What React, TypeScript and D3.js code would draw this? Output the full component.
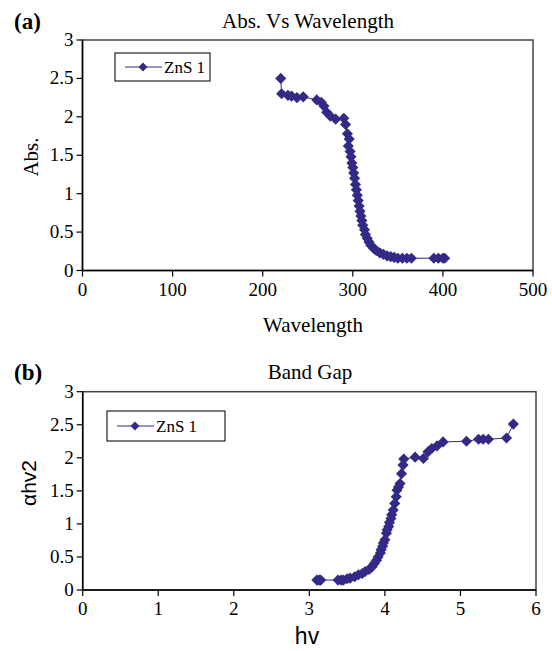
import React from 'react'
import * as d3 from 'd3'

// panel (a): absorbance vs wavelength
const wavelength = [220, 221, 228, 232, 238, 245, 260, 265, 268, 271, 275, 281, 290, 292, 294, 296, 295, 297, 298, 299, 300, 301, 302, 303, 304, 305, 306, 307, 308, 309, 310, 311, 313, 314, 316, 318, 320, 323, 326, 330, 334, 338, 342, 346, 350, 355, 360, 365, 390, 395, 400, 402]
const absValues = [2.5, 2.3, 2.28, 2.27, 2.25, 2.26, 2.22, 2.19, 2.14, 2.06, 2.01, 1.97, 1.98, 1.9, 1.78, 1.71, 1.62, 1.55, 1.48, 1.4, 1.34, 1.27, 1.2, 1.12, 1.05, 0.98, 0.91, 0.84, 0.77, 0.71, 0.65, 0.59, 0.53, 0.47, 0.42, 0.37, 0.33, 0.29, 0.26, 0.23, 0.21, 0.19, 0.18, 0.17, 0.16, 0.16, 0.16, 0.16, 0.16, 0.16, 0.16, 0.16]

// panel (b): band gap
const photonEnergy = [5.7, 5.61, 5.37, 5.3, 5.24, 5.08, 4.77, 4.69, 4.62, 4.57, 4.51, 4.4, 4.25, 4.24, 4.22, 4.2, 4.18, 4.16, 4.15, 4.13, 4.11, 4.09, 4.08, 4.06, 4.05, 4.03, 4.02, 4.0, 3.98, 3.97, 3.95, 3.94, 3.91, 3.89, 3.86, 3.83, 3.79, 3.74, 3.7, 3.65, 3.6, 3.54, 3.5, 3.45, 3.42, 3.38, 3.15, 3.13, 3.1]
const bandValues = [2.51, 2.3, 2.28, 2.28, 2.28, 2.25, 2.24, 2.18, 2.14, 2.09, 1.99, 2.01, 1.98, 1.89, 1.76, 1.61, 1.56, 1.51, 1.41, 1.31, 1.21, 1.14, 1.08, 1.02, 0.96, 0.91, 0.86, 0.76, 0.71, 0.66, 0.61, 0.56, 0.5, 0.45, 0.4, 0.35, 0.31, 0.28, 0.25, 0.23, 0.2, 0.18, 0.17, 0.15, 0.15, 0.15, 0.15, 0.15, 0.15]

const yTicks = [0, 0.5, 1, 1.5, 2, 2.5, 3]
const xTicksA = [0, 100, 200, 300, 400, 500]
const xTicksB = [0, 1, 2, 3, 4, 5, 6]
const seriesName = 'ZnS 1'

const serif = '"Liberation Serif", "Times New Roman", serif'
const sans = '"Liberation Sans", Arial, sans-serif'
const navy = '#332a86'
const marker = d3.symbol(d3.symbolSquare, 62)()

type PanelProps = {
  xs: number[]
  ys: number[]
  xTicks: number[]
  left: number
  right: number
  top: number
  bottom: number
  legend: { x: number; y: number; w: number; h: number }
}

const Panel = ({ xs, ys, xTicks, left, right, top, bottom, legend }: PanelProps) => {
  const x = d3.scaleLinear().domain([xTicks[0], xTicks[xTicks.length - 1]]).range([left, right])
  const y = d3.scaleLinear().domain([0, 3]).range([bottom, top])
  const pts: [number, number][] = xs.map((v, i) => [x(v), y(ys[i])])
  const line = d3.line()(pts) || ''
  const ly = legend.y + legend.h / 2
  return (
    <g>
      <rect x={left} y={top} width={right - left} height={bottom - top} fill="none" stroke="#444" strokeWidth={1.5} />
      <line x1={left} x2={left} y1={top} y2={bottom} stroke="#000" strokeWidth={1.5} />
      <line x1={left} x2={right} y1={bottom} y2={bottom} stroke="#000" strokeWidth={1.5} />
      {yTicks.map((t) => (
        <g key={'y' + t}>
          <line x1={left - 6} x2={left} y1={y(t)} y2={y(t)} stroke="#000" strokeWidth={1.2} />
          <text x={left - 9} y={y(t) + 6} textAnchor="end" fontFamily={serif} fontSize={19}>{t}</text>
        </g>
      ))}
      {xTicks.map((t) => (
        <g key={'x' + t}>
          <line x1={x(t)} x2={x(t)} y1={bottom} y2={bottom + 6} stroke="#000" strokeWidth={1.2} />
          <text x={x(t)} y={bottom + 25} textAnchor="middle" fontFamily={serif} fontSize={19}>{t}</text>
        </g>
      ))}
      <path d={line} fill="none" stroke={navy} strokeWidth={1} />
      {pts.map((p, i) => (
        <path key={i} d={marker} transform={`translate(${p[0]},${p[1]}) rotate(45)`} fill={navy} />
      ))}
      <rect x={legend.x} y={legend.y} width={legend.w} height={legend.h} fill="#fff" stroke="#222" strokeWidth={1.2} />
      <line x1={legend.x + 10} x2={legend.x + 47} y1={ly} y2={ly} stroke={navy} strokeWidth={1.2} />
      <path d={d3.symbol(d3.symbolSquare, 40)()} transform={`translate(${legend.x + 28},${ly}) rotate(45)`} fill={navy} />
      <text x={legend.x + 49} y={ly + 5.5} fontFamily={serif} fontSize={17}>{seriesName}</text>
    </g>
  )
}

export default function App() {
  return (
    <svg width={552} height={651} style={{ position: 'absolute', left: 0, top: 0, background: '#fff' }}>
      <text x={14} y={29} fontFamily={serif} fontSize={23} fontWeight="bold">(a)</text>
      <text x={308} y={28} textAnchor="middle" fontFamily={serif} fontSize={21}>Abs. Vs Wavelength</text>
      <Panel xs={wavelength} ys={absValues} xTicks={xTicksA} left={82.5} right={533} top={40} bottom={270.5}
        legend={{ x: 115, y: 53, w: 95, h: 28 }} />
      <text x={313} y={332} textAnchor="middle" fontFamily={serif} fontSize={21}>Wavelength</text>
      <text transform="translate(38,157) rotate(-90)" textAnchor="middle" fontFamily={serif} fontSize={21}>Abs.</text>

      <text x={14} y={380} fontFamily={serif} fontSize={23} fontWeight="bold">(b)</text>
      <text x={310} y={379} textAnchor="middle" fontFamily={serif} fontSize={21}>Band Gap</text>
      <Panel xs={photonEnergy} ys={bandValues} xTicks={xTicksB} left={82.7} right={536} top={391.7} bottom={590}
        legend={{ x: 107, y: 411, w: 118, h: 30 }} />
      <text x={307} y={644} textAnchor="middle" fontFamily={sans} fontSize={23}>hv</text>
      <text transform="translate(36,483) rotate(-90)" textAnchor="middle" fontFamily={sans} fontSize={21}>αhv2</text>
    </svg>
  )
}
